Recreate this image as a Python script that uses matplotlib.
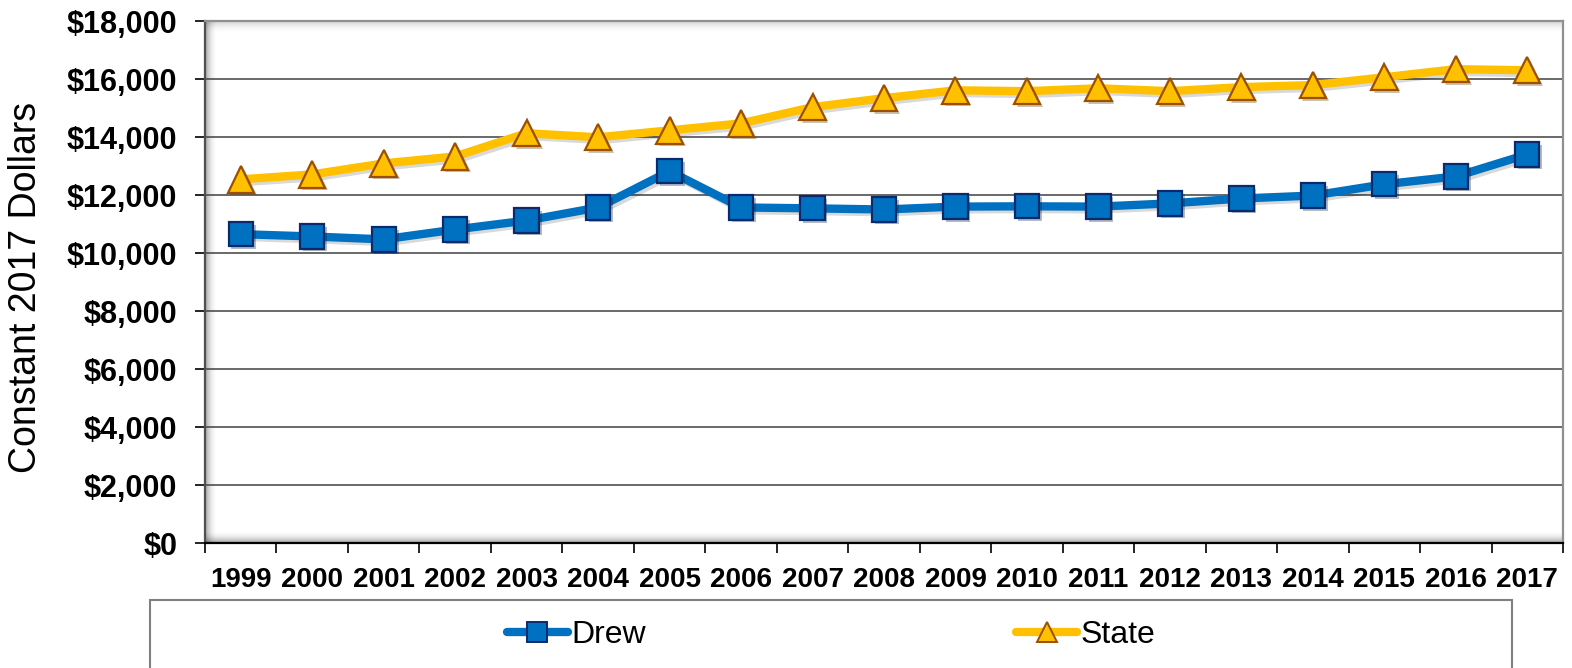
import numpy as np
import matplotlib
matplotlib.use('Agg')
import matplotlib.pyplot as plt
import matplotlib.patheffects as pe
from matplotlib.patches import Rectangle
from matplotlib.ticker import FuncFormatter

plt.rcParams['font.family'] = ['Liberation Sans', 'DejaVu Sans']

# DADOS

years = [str(y) for y in range(1999, 2018)]
drew = [10650, 10570, 10470, 10810, 11120, 11570, 12820, 11570, 11540, 11500,
        11600, 11610, 11600, 11710, 11880, 11980, 12370, 12640, 13400]
state = [12540, 12710, 13090, 13330, 14130, 13990, 14230, 14470, 15030, 15340,
         15610, 15580, 15680, 15580, 15720, 15790, 16060, 16340, 16300]
yticks = [0, 2000, 4000, 6000, 8000, 10000, 12000, 14000, 16000, 18000]

blue = '#0070C0'
blue_edge = '#0B2A6E'
gold = '#FFC000'
gold_edge = '#9C4F00'

fig = plt.figure(figsize=(15.72, 6.68), dpi=100)
ax = fig.add_axes([205/1572, 125/668, 1358/1572, 522/668])

x = np.arange(len(years))

shadow_line = [pe.SimpleLineShadow(offset=(2, -2), alpha=0.15), pe.Normal()]
shadow_patch = [pe.SimplePatchShadow(offset=(2, -2), alpha=0.3), pe.Normal()]


def plot_series(vals, color, edge, marker, ms):
    ax.plot(x, vals, color=color, lw=6, zorder=3, path_effects=shadow_line,
            solid_capstyle='round')
    ax.plot(x, vals, ls='none', marker=marker, ms=ms, mfc=color, mec=edge,
            mew=1.6, zorder=4, path_effects=shadow_patch)


plot_series(drew, blue, blue_edge, 's', 17.5)
plot_series(state, gold, gold_edge, '^', 19)

ax.set_xlim(-0.5, len(years) - 0.5)
ax.set_ylim(0, 18000)
ax.set_yticks(yticks)
ax.yaxis.set_major_formatter(FuncFormatter(lambda v, p: '${:,.0f}'.format(v)))
ax.set_xticks(x)
ax.set_xticklabels(years)
ax.set_xticks(np.arange(-0.5, len(years)), minor=True)

ax.tick_params(axis='y', length=7, width=1.2, pad=13, labelsize=22)
ax.tick_params(axis='x', which='major', length=0, pad=17, labelsize=20)
ax.tick_params(axis='x', which='minor', length=7, width=1.2, direction='out')
for lab in ax.get_xticklabels() + ax.get_yticklabels():
    lab.set_fontweight('bold')

ax.grid(axis='y', color='#404040', lw=1.1, zorder=1)
ax.set_axisbelow(True)

ax.set_ylabel('Constant 2017 Dollars', fontsize=27)
ax.yaxis.set_label_coords(-0.1185, 0.49)

ax.spines['left'].set_color('#505050')
ax.spines['bottom'].set_color('black')
ax.spines['top'].set_color('#909090')
ax.spines['right'].set_color('#909090')
for s in ax.spines.values():
    s.set_linewidth(1.6)

# sombra interna da area do grafico
n = 12
for i in range(n):
    a = 0.35 * (1 - i / n) ** 2
    ax.add_patch(Rectangle((i / 1358, 0), 1 / 1358, 1, transform=ax.transAxes,
                           color='black', alpha=a, lw=0, zorder=0.5))
    ax.add_patch(Rectangle((0, i / 522), 1, 1 / 522, transform=ax.transAxes,
                           color='black', alpha=a, lw=0, zorder=0.5))
    ax.add_patch(Rectangle((0, 1 - (i + 1) / 522), 1, 1 / 522, transform=ax.transAxes,
                           color='black', alpha=a * 0.5, lw=0, zorder=0.5))

# caixa da legenda
fig.patches.append(Rectangle((150/1572, -0.02), 1362/1572, 68/668 + 0.02,
                             transform=fig.transFigure, fill=False,
                             ec='#808080', lw=1.5))

h1 = plt.Line2D([], [], color=blue, lw=6, marker='s', ms=14, mfc=blue,
                mec=blue_edge, mew=1.4, solid_capstyle='round')
h2 = plt.Line2D([], [], color=gold, lw=6, marker='^', ms=15, mfc=gold,
                mec=gold_edge, mew=1.4, solid_capstyle='round')
fig.legend([h1, h2], ['Drew', 'State'], loc='center', ncol=2,
           bbox_to_anchor=(831/1572, 33/668), frameon=False, fontsize=23,
           handlelength=1.9, handletextpad=0.1, columnspacing=11.6)

fig.savefig('out.png', dpi=100)
